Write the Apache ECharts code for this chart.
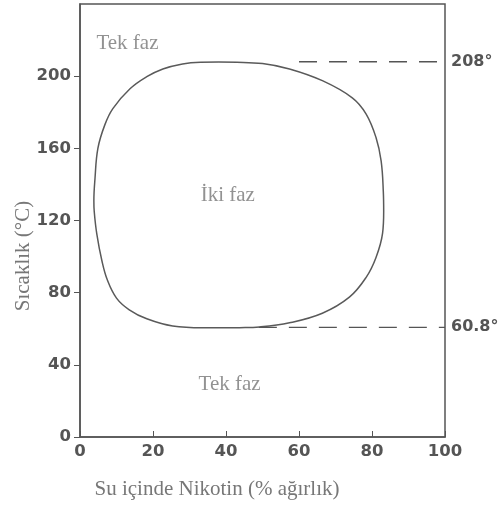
<!DOCTYPE html>
<html>
<head>
<meta charset="utf-8">
<script src="https://cdn.jsdelivr.net/npm/echarts@6/dist/echarts.min.js"></script>
<style>
  html, body { margin: 0; padding: 0; background: #fff; }
  #main { width: 500px; height: 508px; }
</style>
</head>
<body>
<div id="main"></div>
<script>
// iki faz bölgesinin sınırı (% nikotin, °C), tepeden başlayıp saat yönünde
var loopX = [38, 43, 50, 57.4, 66.4, 74.6, 78.4, 81.1, 82.5, 83.1, 83.2, 82.9, 81.1, 78.4, 73.8, 66.4, 57.4, 49.2, 43.7,
             38, 33.6, 25.4, 18.3, 13.5, 10, 7.5, 6.0, 4.6, 3.9, 3.8, 4.1, 4.9, 6.8, 9.0, 13.7, 18.3, 22.7, 28.1, 33, 38];
var loopY = [207.8, 207.7, 207, 204, 197.5, 188, 179, 166, 153, 136, 125, 113, 99.5, 88.5, 77.5, 68.6, 63.3, 61, 60.6,
             60.5, 60.5, 61.5, 65.5, 70.5, 77, 87, 97.7, 112.6, 125, 131, 143, 160, 173, 182, 193, 199.7, 204, 206.8, 207.7, 207.8];

// kritik sıcaklıklar
var upperT = 208;
var lowerT = 60.8;
var upperFrom = 60;
var lowerFrom = 49;

// bölge yazıları
var regionNames = ['Tek faz', 'İki faz', 'Tek faz'];
var regionX = [13, 40.5, 41];
var regionY = [218, 134, 29];

var xTicks = [0, 20, 40, 60, 80, 100];
var yTicks = [0, 40, 80, 120, 160, 200];

var loopData = loopX.map(function (x, i) { return [x, loopY[i]]; });
var regionData = regionNames.map(function (n, i) { return { name: n, value: [regionX[i], regionY[i]] }; });

var dom = document.getElementById('main');
var myChart = echarts.init(dom);

var tickFont = { fontFamily: 'DejaVu Sans', fontSize: 16.5, fontWeight: 'bold', color: '#555' };
var serif = 'Liberation Serif';

var option = {
    animation: false,
    backgroundColor: '#fff',
    grid: {
        left: 80, right: 55, top: 4, bottom: 71,
        show: true, borderColor: '#555', borderWidth: 1.5
    },
    xAxis: {
        type: 'value', min: 0, max: 100, interval: 20,
        axisLine: { show: true, lineStyle: { color: '#555', width: 1.5 } },
        axisTick: { show: true, inside: true, length: 6, lineStyle: { color: '#555' } },
        splitLine: { show: false },
        axisLabel: Object.assign({ margin: 6 }, tickFont)
    },
    yAxis: {
        type: 'value', min: 0, max: 240, interval: 40,
        axisLine: { show: true, lineStyle: { color: '#555', width: 1.5 } },
        axisTick: { show: true, inside: false, length: 6, lineStyle: { color: '#555' } },
        splitLine: { show: false },
        axisLabel: Object.assign({ margin: 9, showMaxLabel: false }, tickFont)
    },
    graphic: [
        {
            type: 'text', x: 23, y: 256, rotation: Math.PI / 2,
            style: {
                text: 'Sıcaklık (°C)', font: '21px "' + serif + '"', fill: '#777',
                textAlign: 'center', textVerticalAlign: 'middle'
            }
        },
        {
            type: 'text', x: 217, y: 489,
            style: {
                text: 'Su içinde Nikotin (% ağırlık)', font: '21px "' + serif + '"', fill: '#777',
                textAlign: 'center', textVerticalAlign: 'middle'
            }
        }
    ],
    series: [
        {
            name: 'sınır',
            type: 'line',
            data: loopData,
            smooth: 0.4,
            showSymbol: false,
            lineStyle: { color: '#5a5a5a', width: 1.5 }
        },
        {
            name: 'üst',
            type: 'line',
            data: [[upperFrom, upperT], [100, upperT]],
            showSymbol: false,
            lineStyle: { color: '#555', width: 1.3, type: [18, 12] },
            endLabel: { show: true, formatter: upperT + '°', distance: 6, fontFamily: 'DejaVu Sans', fontSize: 16, fontWeight: 'bold', color: '#555' }
        },
        {
            name: 'alt',
            type: 'line',
            data: [[lowerFrom, lowerT], [100, lowerT]],
            showSymbol: false,
            lineStyle: { color: '#555', width: 1.3, type: [18, 12] },
            endLabel: { show: true, formatter: lowerT + '°', distance: 6, fontFamily: 'DejaVu Sans', fontSize: 16, fontWeight: 'bold', color: '#555' }
        },
        {
            name: 'bölgeler',
            type: 'scatter',
            data: regionData,
            symbolSize: 0,
            label: {
                show: true, position: 'inside', formatter: '{b}',
                fontFamily: serif, fontSize: 21, color: '#777'
            }
        }
    ]
};

myChart.setOption(option);
</script>
</body>
</html>
